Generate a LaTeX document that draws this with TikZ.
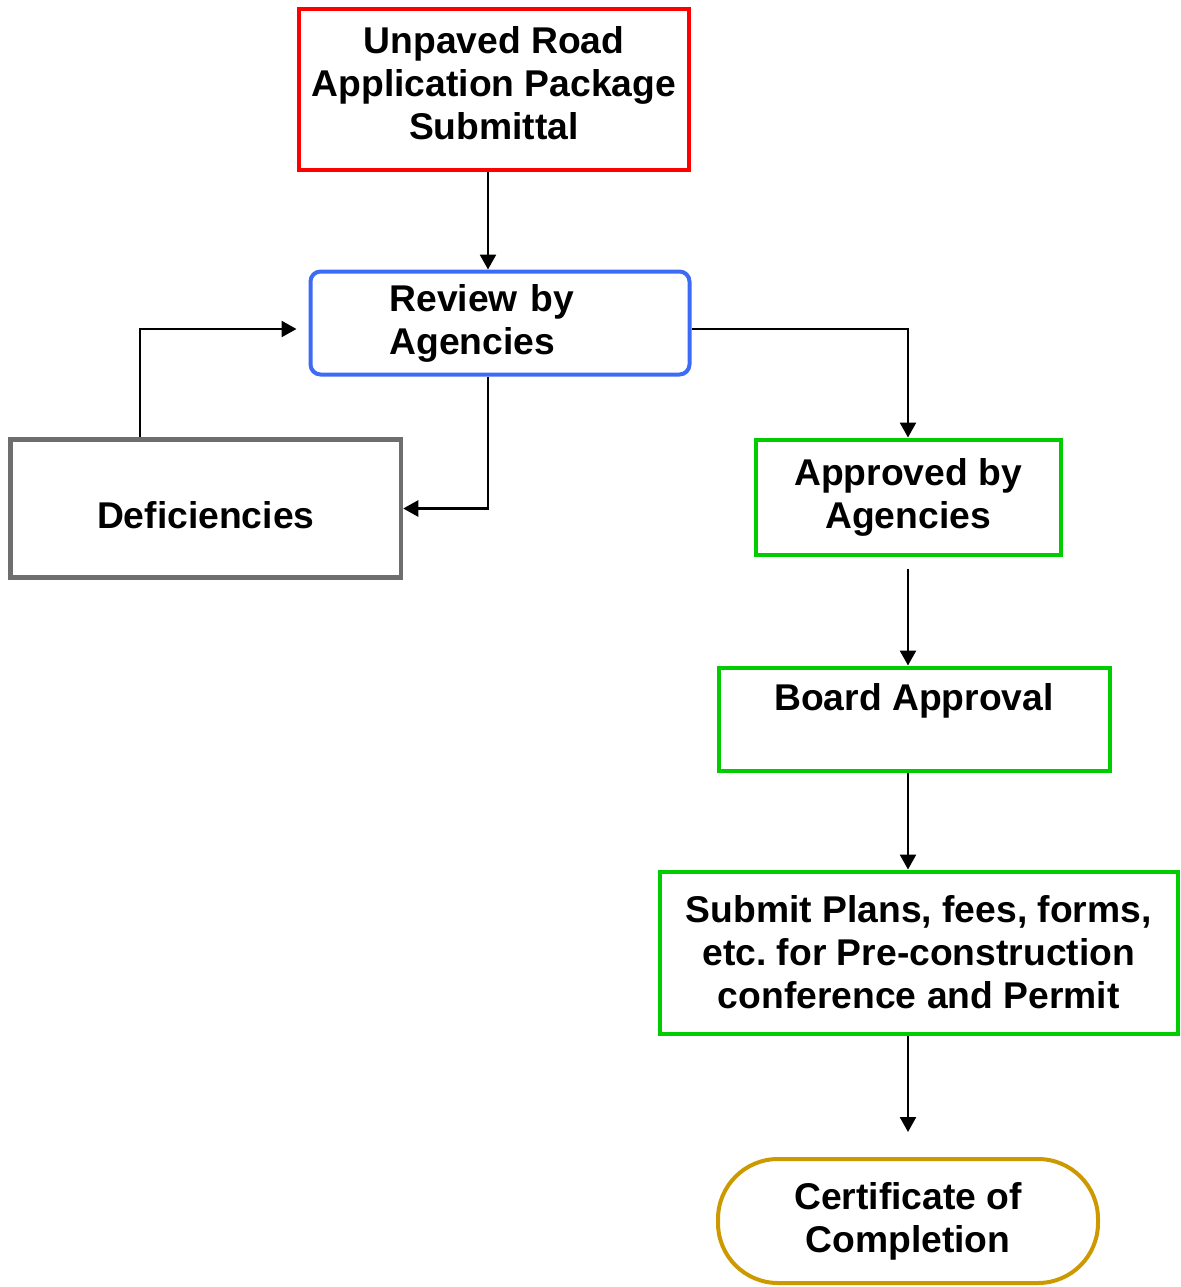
\documentclass[tikz,border=0pt]{standalone}
\usepackage{fontspec}
\setmainfont{Liberation Sans}
\usetikzlibrary{arrows.meta}

\definecolor{boxred}{RGB}{255,0,0}
\definecolor{boxblue}{RGB}{61,107,245}
\definecolor{boxgreen}{RGB}{0,204,0}
\definecolor{boxgray}{RGB}{110,110,110}
\definecolor{boxgold}{RGB}{204,153,0}

\begin{document}
\begin{tikzpicture}[
    box/.style={draw, line width=0.08cm, align=center, inner sep=0pt,
      font=\fontsize{21.2}{24.5}\selectfont\bfseries},
    flow/.style={-{Triangle[length=0.3cm,width=0.32cm]}, line width=0.05cm}
  ]
  \useasboundingbox (0,0) rectangle (23.62,-25.74);

  % application and review
  \node[box, draw=boxred, minimum width=7.80cm, minimum height=3.22cm, text depth=0.26cm] (unpaved) at (9.88,-1.79) {Unpaved Road\\Application Package\\Submittal};
  \node[box, draw=boxblue, rounded corners=0.2cm, align=left, text width=4.42cm, inner xsep=1.58cm, minimum height=2.06cm] (review) at (10.00,-6.46) {Review by\\Agencies};
  \node[box, draw=boxgray, line width=0.09cm, minimum width=7.81cm, minimum height=2.76cm, text height=0.78cm, text depth=0cm] (deficiencies) at (4.115,-10.17) {Deficiencies};

  % approval path
  \node[box, draw=boxgreen, minimum width=6.10cm, minimum height=2.30cm] (approved) at (18.16,-9.94) {Approved by\\Agencies};
  \node[box, draw=boxgreen, minimum width=7.82cm, minimum height=2.06cm] (board) at (18.28,-14.38) {Board Approval\\~};
  \node[box, draw=boxgreen, minimum width=10.37cm, minimum height=3.24cm] (submit) at (18.375,-19.05) {Submit Plans, fees, forms,\\etc.\ for Pre-construction\\conference and Permit};
  \node[box, draw=boxgold, rounded corners=1.2cm, minimum width=7.60cm, minimum height=2.48cm] (cert) at (18.16,-24.42) {Certificate of\\Completion};

  \coordinate (reentry) at ([xshift=-0.24cm,yshift=-0.12cm]review.west);

  % connectors
  \draw[flow] ([xshift=-0.12cm]unpaved.south) -- ([xshift=-0.12cm]unpaved.south |- review.north);
  \draw[flow] ([yshift=-0.12cm]review.east) -| (approved.north);
  \draw[flow] ([xshift=-0.24cm]review.south) |- (deficiencies.east);
  \draw[flow] ([xshift=-1.32cm]deficiencies.north) |- (reentry);
  \draw[flow] ([yshift=-0.24cm]approved.south) -- (approved.south |- board.north);
  \draw[flow] ([xshift=-0.12cm]board.south) -- ([xshift=-0.12cm]board.south |- submit.north);
  \draw[flow] (submit.south -| cert.north) -- ([yshift=0.5cm]cert.north);
\end{tikzpicture}
\end{document}
